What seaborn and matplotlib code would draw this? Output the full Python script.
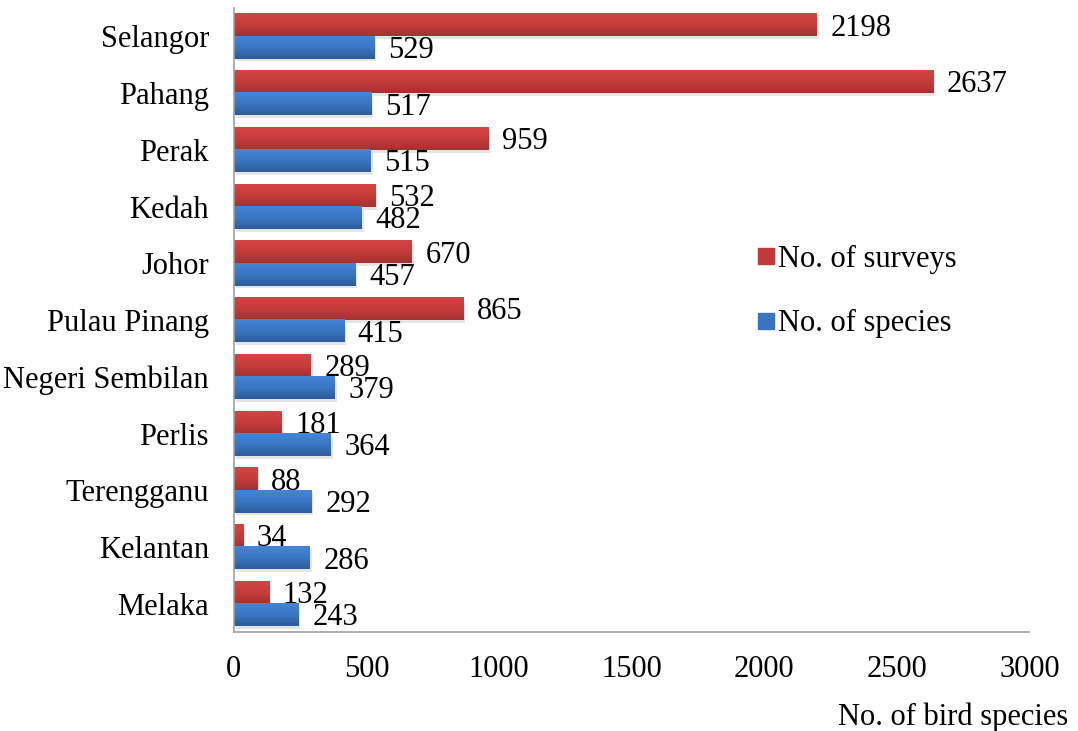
import numpy as np
import pandas as pd
import matplotlib
matplotlib.use("Agg")
import matplotlib.pyplot as plt
import seaborn as sns
from matplotlib.lines import Line2D
from matplotlib.colors import LinearSegmentedColormap

states = ["Selangor", "Pahang", "Perak", "Kedah", "Johor", "Pulau Pinang",
          "Negeri Sembilan", "Perlis", "Terengganu", "Kelantan", "Melaka"]
surveys = [2198, 2637, 959, 532, 670, 865, 289, 181, 88, 34, 132]
species = [529, 517, 515, 482, 457, 415, 379, 364, 292, 286, 243]
series_names = ["No. of surveys", "No. of species"]
xticks = [0, 500, 1000, 1500, 2000, 2500, 3000]

sns.set_theme(style="white")
plt.rcParams["font.family"] = ["Liberation Serif", "DejaVu Serif"]
plt.rcParams["text.color"] = "black"
plt.rcParams["xtick.color"] = "black"
plt.rcParams["ytick.color"] = "black"

FS = 22

df = pd.DataFrame({
    "State": states * 2,
    "Value": surveys + species,
    "Series": [series_names[0]] * len(states) + [series_names[1]] * len(states),
})

red = "#C0393B"
blue = "#3A74C0"
fig = plt.figure(figsize=(10.78, 7.31), dpi=100)
ax = fig.add_axes([0.217, 0.135, 0.738, 0.854])

sns.barplot(data=df, y="State", x="Value", hue="Series", orient="h",
            palette=[red, blue], width=0.78, ax=ax, legend=False,
            edgecolor="none", linewidth=0)

grads = [
    LinearSegmentedColormap.from_list("r", ["#D24543", "#C63D3C", "#A23130"]),
    LinearSegmentedColormap.from_list("b", ["#4485D6", "#3A77C4", "#2D5C9A"]),
]
grad = np.linspace(0, 1, 64).reshape(-1, 1)
for cont, cmap in zip(ax.containers, grads):
    for p in cont.patches:
        x0, y0 = p.get_x(), p.get_y()
        w, h = p.get_width(), p.get_height()
        ax.add_patch(plt.Rectangle((x0 + 8, y0 + 0.05), w, h, color="#000000",
                                   alpha=0.10, zorder=1.5, linewidth=0))
        p.set_zorder(2)
        ax.imshow(grad, cmap=cmap, aspect="auto", zorder=2.1,
                  extent=(x0, x0 + w, y0 + h, y0), interpolation="bilinear")

for cont in ax.containers:
    for p, v in zip(cont.patches, cont.datavalues):
        ax.annotate(f"{int(v)}", xy=(p.get_x() + p.get_width(),
                                     p.get_y() + p.get_height() / 2),
                    xytext=(10, -2), textcoords="offset points",
                    ha="left", va="center", fontsize=FS, color="black",
                    zorder=5)

ax.set_xlim(0, 3000)
ax.set_ylim(len(states) - 0.5, -0.5)
ax.set_xticks(xticks)
ax.set_xticklabels([str(t) for t in xticks])
ax.tick_params(axis="x", length=0, pad=16, labelsize=FS)
ax.tick_params(axis="y", length=0, pad=18, labelsize=FS)
ax.set_xlabel("")
ax.set_ylabel("")
for s in ["top", "right"]:
    ax.spines[s].set_visible(False)
for s in ["left", "bottom"]:
    ax.spines[s].set_color("#A0A0A0")
    ax.spines[s].set_linewidth(1.2)

handles = [Line2D([0], [0], marker="s", linestyle="none", markersize=12,
                  markerfacecolor=c, markeredgecolor=c) for c in [red, blue]]
fig.legend(handles, series_names, loc="center left",
           bbox_to_anchor=(0.671, 0.601), frameon=False, fontsize=FS,
           handletextpad=-0.1, labelspacing=1.15, handlelength=1.0)

fig.text(1068 / 1078, 14 / 731, "No. of bird species", ha="right",
         va="center", fontsize=FS)

fig.savefig("out.png", dpi=100)
